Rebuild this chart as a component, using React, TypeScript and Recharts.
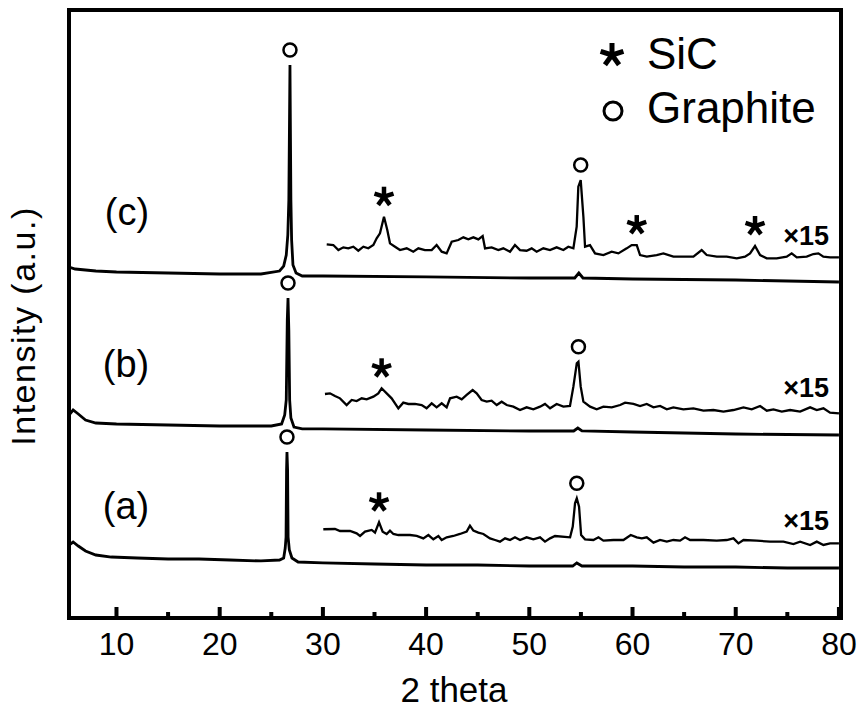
import React from "react"
import { LineChart, Line, XAxis, YAxis, ReferenceArea, ReferenceDot } from "recharts"

const FONT = '"Liberation Sans", Arial, Helvetica, sans-serif'

// [2θ, intensity] — full-range scans, offset vertically per sample
const scanA: [number, number][] = [
  [5.4, 12.0], [5.8, 12.5], [6.3, 11.84], [7.0, 11.02], [8.0, 10.36], [9.5, 10.03],
  [12, 9.87], [15, 9.7], [18, 9.7], [21, 9.54], [24, 9.38], [25.8, 9.54], [26.2, 9.87],
  [26.35, 11.51], [26.43, 13.32], [26.48, 24.34], [26.52, 27.3], [26.58, 24.34],
  [26.63, 13.32], [26.75, 11.18], [27.0, 9.87], [27.6, 9.21], [30, 9.05], [35, 8.88],
  [40, 8.72], [45, 8.72], [50, 8.55], [54.2, 8.55], [54.6, 9.05], [55.1, 8.55],
  [60, 8.55], [65, 8.39], [70, 8.39], [75, 8.22], [80, 8.22],
]

const scanB: [number, number][] = [
  [5.4, 33.39], [5.8, 34.21], [6.3, 33.55], [7.0, 32.57], [8.0, 32.07], [10, 31.91],
  [15, 31.74], [20, 31.58], [25, 31.58], [26.0, 31.91], [26.3, 33.39], [26.45, 35.86],
  [26.55, 49.01], [26.62, 52.63], [26.7, 47.37], [26.78, 35.86], [26.9, 32.89],
  [27.2, 31.41], [28, 31.09], [30, 31.09], [40, 30.92], [50, 30.76], [54.3, 30.76],
  [54.7, 31.25], [55.1, 30.76], [60, 30.59], [70, 30.26], [80, 30.1],
]

const scanC: [number, number][] = [
  [5.4, 57.73], [6, 57.4], [8, 57.07], [10, 56.91], [15, 56.74], [20, 56.58], [24, 56.58],
  [25.8, 57.07], [26.2, 57.89], [26.45, 59.7], [26.6, 62.99], [26.7, 68.75], [26.81, 90.95],
  [26.9, 68.75], [26.97, 62.17], [27.1, 58.06], [27.4, 56.74], [28, 56.25], [30, 56.25],
  [40, 56.09], [50, 55.92], [54.4, 55.92], [54.8, 56.74], [55.2, 55.92], [60, 55.76],
  [70, 55.59], [80, 55.26],
]

// 30–80° region magnified ×15
const zoomA: [number, number][] = [
  [30.04, 14.6], [31.17, 14.64], [31.66, 14.31], [32.63, 14.31], [33.27, 13.93], [33.6, 13.49],
  [34.08, 14.2], [34.73, 14.48], [35.05, 14.04], [35.44, 15.74], [35.79, 14.2], [36.18, 13.82],
  [36.5, 14.37], [36.83, 13.82], [37.31, 13.65], [38.44, 13.65], [39.09, 13.49], [39.73, 13.1],
  [40.22, 13.65], [40.7, 12.94], [41.19, 13.49], [41.51, 12.83], [42.0, 13.27], [42.64, 13.49],
  [43.28, 13.82], [43.93, 14.2], [44.25, 15.19], [44.58, 14.37], [45.06, 14.04], [45.55, 13.82],
  [46.19, 13.1], [46.68, 12.83], [47.16, 12.56], [47.65, 13.1], [48.13, 12.83], [48.61, 13.27],
  [49.1, 12.83], [49.74, 13.27], [50.39, 12.94], [51.04, 13.27], [51.52, 12.56], [52.01, 13.1],
  [52.49, 13.49], [53.95, 13.27], [54.21, 15.03], [54.43, 18.86], [54.6, 19.69], [54.82, 18.31],
  [55.02, 13.65], [55.4, 12.94], [56.21, 12.83], [56.7, 13.27], [57.18, 12.72], [58.15, 12.83],
  [59.12, 12.83], [59.83, 13.65], [60.41, 13.27], [60.9, 13.1], [61.38, 13.27], [62.03, 12.39],
  [62.67, 12.83], [63.32, 12.56], [63.96, 12.83], [64.61, 12.72], [65.09, 13.27], [65.58, 12.83],
  [66.87, 12.83], [68.16, 12.72], [69.13, 12.83], [69.78, 13.1], [70.26, 12.28], [70.75, 12.83],
  [72.04, 12.72], [73.33, 12.56], [74.62, 12.56], [75.59, 12.17], [76.24, 12.56], [77.21, 12.01],
  [77.85, 12.56], [78.5, 12.01], [79.14, 12.28], [80.0, 12.28],
]

const zoomB: [number, number][] = [
  [30.2, 36.84], [30.69, 36.95], [31.17, 36.52], [31.66, 36.13], [32.3, 35.03], [32.79, 35.86],
  [33.27, 35.69], [33.76, 36.13], [34.24, 35.97], [34.89, 36.4], [35.37, 36.95], [35.69, 37.78],
  [36.18, 36.95], [36.66, 36.13], [37.31, 34.49], [37.79, 35.42], [38.28, 35.2], [38.92, 35.2],
  [39.57, 35.03], [40.05, 34.49], [40.54, 35.31], [41.02, 34.65], [41.51, 35.31], [41.99, 34.65],
  [42.32, 36.13], [42.96, 36.4], [43.45, 35.97], [43.93, 36.68], [44.51, 37.5], [44.9, 36.95],
  [45.38, 35.86], [45.87, 35.58], [46.35, 35.75], [46.84, 35.03], [47.32, 35.58], [47.81, 35.03],
  [48.45, 34.76], [49.1, 34.21], [49.74, 34.65], [50.39, 34.32], [51.04, 34.76], [51.52, 35.2],
  [52.01, 34.49], [52.65, 35.2], [53.3, 34.76], [53.94, 34.87], [54.27, 38.05], [54.6, 41.89],
  [54.76, 42.16], [54.98, 38.05], [55.24, 35.58], [55.89, 34.76], [56.53, 34.32], [57.18, 34.76],
  [57.99, 34.65], [58.8, 35.03], [59.28, 35.42], [60.09, 35.2], [60.73, 34.87], [61.38, 35.2],
  [62.03, 34.65], [62.67, 34.87], [63.32, 34.32], [63.96, 34.65], [64.93, 34.32], [65.9, 34.49],
  [66.87, 34.1], [67.84, 34.21], [68.81, 33.94], [69.78, 34.21], [70.75, 34.65], [71.55, 34.32],
  [72.36, 34.87], [73.01, 34.1], [73.65, 34.32], [74.46, 33.94], [75.27, 34.21], [76.24, 33.94],
  [77.21, 34.65], [77.85, 34.21], [78.5, 34.49], [79.14, 33.77], [80.0, 33.66],
]

const zoomC: [number, number][] = [
  [30.37, 61.45], [31.01, 61.34], [31.5, 60.52], [31.98, 60.96], [32.46, 60.8], [32.95, 61.07],
  [33.43, 60.41], [33.92, 61.07], [34.4, 60.8], [34.89, 61.34], [35.21, 62.44], [35.53, 63.26],
  [35.92, 66.0], [36.24, 63.81], [36.5, 61.62], [36.99, 61.07], [37.47, 60.52], [38.12, 60.8],
  [38.76, 60.25], [39.25, 60.8], [39.89, 60.52], [40.54, 60.52], [41.02, 61.34], [41.51, 60.25],
  [41.99, 59.97], [42.48, 61.89], [43.12, 62.17], [43.61, 62.61], [44.09, 62.28], [44.58, 62.61],
  [45.06, 62.28], [45.48, 62.83], [45.71, 60.8], [46.35, 60.96], [47.0, 60.52], [47.48, 60.8],
  [48.13, 60.25], [48.61, 61.34], [49.1, 60.52], [49.74, 60.41], [50.23, 60.8], [50.71, 60.25],
  [51.36, 60.8], [52.0, 60.52], [52.65, 60.96], [53.3, 60.52], [53.78, 61.07], [54.27, 60.8],
  [54.59, 64.36], [54.75, 70.94], [54.98, 72.03], [55.24, 66.0], [55.4, 61.07], [55.88, 61.34],
  [56.37, 59.97], [57.18, 59.7], [57.98, 60.25], [58.63, 59.97], [59.44, 60.8], [59.92, 61.34],
  [60.41, 61.34], [60.73, 59.7], [61.38, 59.43], [62.34, 59.7], [62.99, 59.97], [63.96, 59.43],
  [64.93, 59.43], [65.9, 59.43], [66.7, 60.52], [67.19, 59.7], [68.16, 59.43], [69.13, 59.43],
  [70.1, 59.15], [70.9, 59.43], [71.39, 59.97], [71.87, 61.18], [72.36, 59.7], [73.0, 59.15],
  [73.97, 59.15], [74.94, 59.43], [75.42, 59.97], [75.91, 59.32], [76.88, 59.43], [77.52, 59.86],
  [78.01, 59.97], [78.49, 59.43], [79.14, 59.32], [80.0, 59.32],
]

// peak tops that get a phase marker
const graphitePeaks: [number, number][] = [
  [26.81, 90.95], [26.62, 52.63], [26.52, 27.3], [54.98, 72.03], [54.76, 42.16], [54.6, 19.69],
]
const sicPeaks: [number, number][] = [
  [35.92, 66.0], [60.41, 61.34], [71.87, 61.18], [35.69, 37.78], [35.44, 15.74],
]

const xTicks = [10, 15, 20, 25, 30, 35, 40, 45, 50, 55, 60, 65, 70, 75, 80]
const sampleLabels = ["(c)", "(b)", "(a)"]
const scaleLabel = "×15"

const X_DOMAIN: [number, number] = [5.4, 80.2]

const toPoints = (pairs: [number, number][]) => pairs.map(([x, v]) => ({ x, v }))

// x axis tick: short inward mark on the frame (longer every 10°) plus the label below it
const AxisTick = (props: any) => {
  const { x, y, payload } = props
  const major = payload.value % 10 === 0
  return (
    <g>
      <rect x={x - 2} y={y - (major ? 11 : 6)} width={4} height={major ? 11 : 6} fill="#000" />
      {major && (
        <text x={x} y={y + 37} textAnchor="middle" fontSize={32} fontFamily={FONT} fill="#000">
          {payload.value}
        </text>
      )}
    </g>
  )
}

const StarGlyph = ({ cx, cy, arm, width }: { cx: number; cy: number; arm: number; width: number }) => (
  <g stroke="#000" strokeWidth={width} strokeLinecap="butt">
    {[0, 1, 2, 3, 4].map((k) => {
      const a = ((-90 + 72 * k) * Math.PI) / 180
      return <line key={k} x1={cx} y1={cy} x2={cx + arm * Math.cos(a)} y2={cy + arm * Math.sin(a)} />
    })}
  </g>
)

const GraphiteMark = (p: any) => (
  <circle cx={p.cx} cy={p.cy - 15} r={6.5} fill="none" stroke="#000" strokeWidth={2.5} />
)
const SicMark = (p: any) => <StarGlyph cx={p.cx} cy={p.cy - 20} arm={10} width={4.5} />

const traces = [scanA, scanB, scanC, zoomA, zoomB, zoomC]

export default function App() {
  return (
    <div style={{ position: "absolute", left: 0, top: 0, width: 862, height: 714, background: "#fff" }}>
      <LineChart width={862} height={714} margin={{ top: 10, right: 21, left: 69, bottom: 0 }}>
        <XAxis
          dataKey="x"
          type="number"
          domain={X_DOMAIN}
          ticks={xTicks}
          allowDataOverflow
          height={96}
          axisLine={false}
          tickLine={false}
          tickSize={0}
          tickMargin={0}
          tick={<AxisTick />}
        />
        <YAxis hide type="number" domain={[0, 100]} allowDataOverflow />
        {traces.map((t, i) => (
          <Line
            key={i}
            data={toPoints(t)}
            dataKey="v"
            type="linear"
            stroke="#000"
            strokeWidth={i < 3 ? 2.8 : 2.3}
            dot={false}
            activeDot={false}
            isAnimationActive={false}
          />
        ))}
        <ReferenceArea
          x1={X_DOMAIN[0]}
          x2={X_DOMAIN[1]}
          y1={0}
          y2={100}
          fill="none"
          fillOpacity={0}
          stroke="#000"
          strokeWidth={4}
          ifOverflow="visible"
        />
        {graphitePeaks.map(([x, v], i) => (
          <ReferenceDot key={"g" + i} x={x} y={v} r={0} ifOverflow="visible" shape={GraphiteMark} />
        ))}
        {sicPeaks.map(([x, v], i) => (
          <ReferenceDot key={"s" + i} x={x} y={v} r={0} ifOverflow="visible" shape={SicMark} />
        ))}
      </LineChart>

      <svg
        width={862}
        height={714}
        style={{ position: "absolute", left: 0, top: 0, pointerEvents: "none" }}
        fontFamily={FONT}
      >
        <text x={35} y={326} transform="rotate(-90 35 326)" textAnchor="middle" fontSize={34} letterSpacing={1.5}>
          Intensity (a.u.)
        </text>
        <text x={454} y={702} textAnchor="middle" fontSize={35}>
          2 theta
        </text>

        <text x={127} y={225} textAnchor="middle" fontSize={38}>{sampleLabels[0]}</text>
        <text x={126} y={377} textAnchor="middle" fontSize={38}>{sampleLabels[1]}</text>
        <text x={126} y={519} textAnchor="middle" fontSize={38}>{sampleLabels[2]}</text>

        <text x={829} y={245} textAnchor="end" fontSize={27} fontWeight="bold">{scaleLabel}</text>
        <text x={829} y={397} textAnchor="end" fontSize={27} fontWeight="bold">{scaleLabel}</text>
        <text x={829} y={530} textAnchor="end" fontSize={27} fontWeight="bold">{scaleLabel}</text>

        <StarGlyph cx={612} cy={55} arm={12} width={5} />
        <text x={647} y={69} fontSize={44}>SiC</text>
        <circle cx={613} cy={111} r={9} fill="none" stroke="#000" strokeWidth={3} />
        <text x={647} y={123} fontSize={44}>Graphite</text>
      </svg>
    </div>
  )
}
